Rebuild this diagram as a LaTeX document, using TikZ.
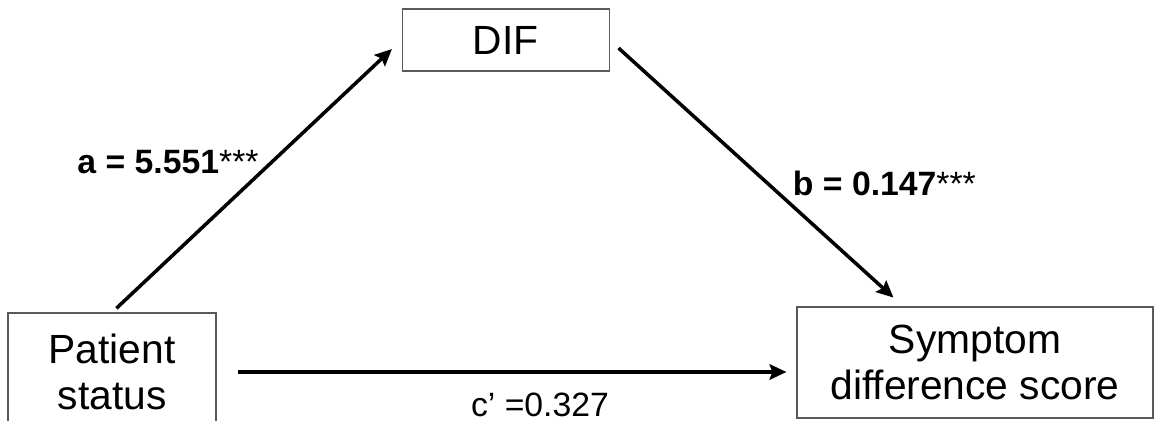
\documentclass[tikz,border=0pt]{standalone}
\usepackage{fontspec}
\setmainfont{Liberation Sans}
\definecolor{boxGray}{RGB}{90,90,90}
\usetikzlibrary{arrows.meta,positioning}

\tikzset{
  varbox/.style={draw=boxGray, line width=0.8pt, align=center, inner sep=0pt,
    font=\fontsize{29}{33}\selectfont},
  pathArrow/.style={-{Stealth[length=12pt,width=11pt,inset=2pt]}, line width=2.5pt},
  coefLabel/.style={font=\fontsize{24}{28}\selectfont}
}

\begin{document}
\begin{tikzpicture}
    \useasboundingbox (0,0) rectangle (28.925,10.5);
    \clip (0,0) rectangle (28.925,10.5);
    % Variables
    \node[varbox, minimum width=5.175cm, minimum height=1.55cm] (dif) at (12.64,9.5) {DIF};
    \node[varbox, minimum width=5.2cm, minimum height=2.95cm] (pat) at (2.8,1.2) {Patient\\status};
    \node[varbox, minimum width=8.9cm, minimum height=2.775cm] (sym) at (24.375,1.4375) {Symptom\\difference score};
    % Paths a and b
    \draw[pathArrow, shorten <=0.15cm, shorten >=0.33cm] (pat.north) -- (dif.west);
    \draw[pathArrow, shorten <=0.3cm, shorten >=0.33cm] (dif.east) -- (sym.142);
    % Direct path c'
    \draw[pathArrow, shorten <=0.525cm, shorten >=0.25cm] (pat.east) -- (pat.east -| sym.west);
    % Coefficients
    \node[coefLabel] (acoef) at (4.2,6.45) {\bfseries a = 5.551{\mdseries ***}};
    \node[coefLabel] (bcoef) at (22.11,5.925) {\bfseries b = 0.147{\mdseries ***}};
    \node[coefLabel, anchor=base, inner ysep=0pt] (ccoef) at (13.5,0.08) {c’ =0.327};
\end{tikzpicture}
\end{document}
